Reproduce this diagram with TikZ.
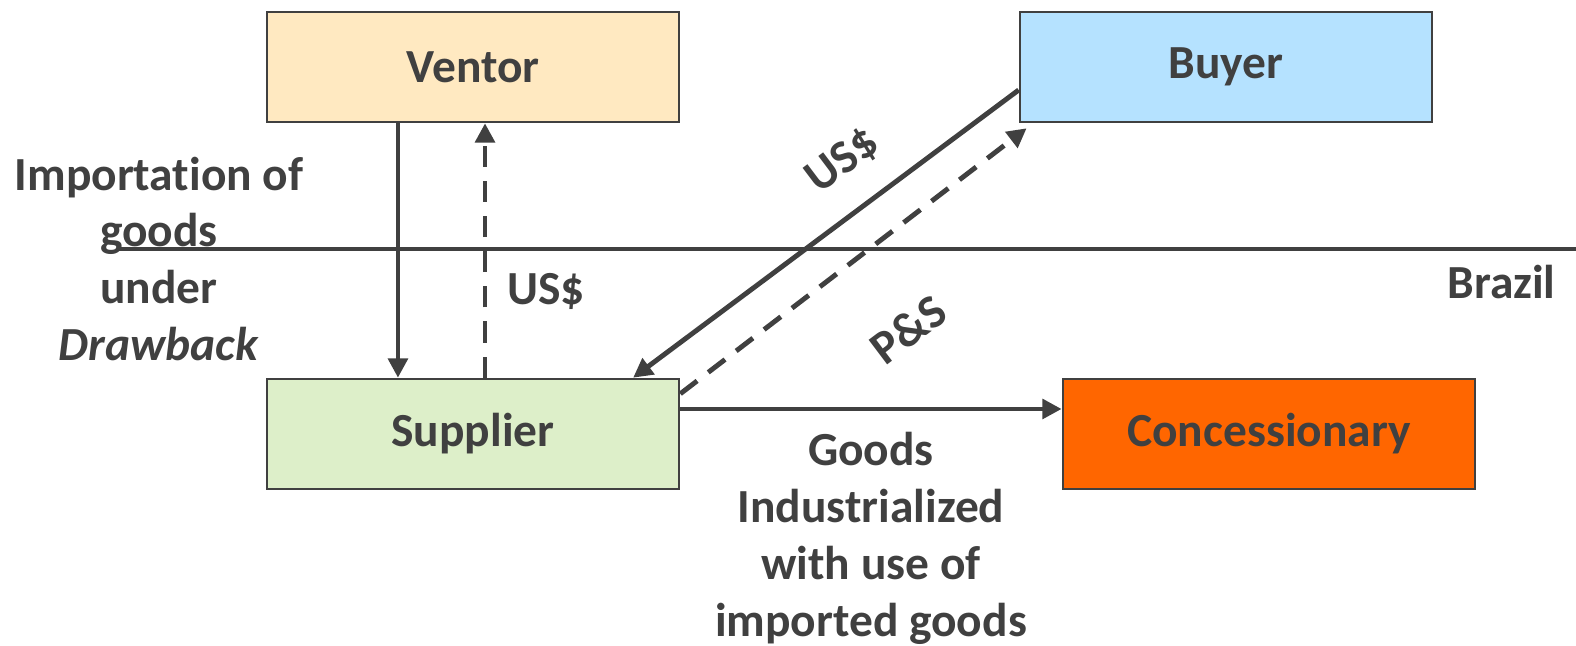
\documentclass[tikz,border=0pt]{standalone}
\usepackage{fontspec}
\setmainfont[Ligatures = NoCommon]{Carlito}
\usetikzlibrary{arrows.meta}

\definecolor{ink}{HTML}{404040}
\definecolor{ventorfill}{HTML}{FFE9C1}
\definecolor{buyerfill}{HTML}{B5E2FF}
\definecolor{supplierfill}{HTML}{DDEFC9}
\definecolor{concfill}{HTML}{FF6600}

\tikzset{
	party/.style = {draw = ink, line width = 0.7pt, text = ink, minimum width = 4.12cm, minimum height = 1.10cm, font = \bfseries\fontsize{13.5}{16.2}\selectfont},
	lbl/.style = {text = ink, align = center, font = \bfseries\fontsize{13.5}{16.2}\selectfont},
	flow/.style = {draw = ink, line width = 1.4pt, -{Triangle[length = 5.5pt, width = 5.5pt]}},
	money/.style = {flow, dashed, dash pattern = on 6pt off 4pt}
}

\begin{document}
\begin{tikzpicture}[x = 0.01cm, y = -0.01cm]
	
		\useasboundingbox (0, 0) rectangle (1576, 646);
		
		% border line
		\coordinate (borderL) at (117, 249);
		\coordinate (borderR) at (1576, 249);
		\draw[ink, line width = 0.9pt] (borderL) -- (borderR);
		
		\node[party, fill = ventorfill] (ventor) at (473, 67) {Ventor};
		\node[party, fill = buyerfill] (buyer) at (1226, 67) {Buyer};
		\node[party, fill = supplierfill] (supplier) at (473, 434) {Supplier};
		\node[party, fill = concfill] (conc) at (1269, 434) {Concessionary};
		
		\draw[flow] ([xshift = -0.75cm]ventor.south) -- ([xshift = -0.75cm]supplier.north);
		\draw[money] ([xshift = 0.12cm]supplier.north) -- ([xshift = 0.12cm]ventor.south);
		
		\draw[flow] ([yshift = -0.23cm]buyer.west) -- ([xshift = 1.60cm]supplier.north);
		\draw[money] ([yshift = -0.16cm]supplier.north east) -- ([xshift = 0.08cm, yshift = -0.05cm]buyer.south west);
		
		\draw[flow] ([yshift = 0.25cm]supplier.east) -- ([yshift = 0.25cm]conc.west);
		
		\node[lbl] (usdV) at (546, 291) {US\$};
		\node[lbl, rotate = 37] (usdD) at (843, 161) {US\$};
		\node[lbl, rotate = 37] (ps) at (908, 329) {P\&S};
		\node[lbl, anchor = east] (brazil) at (1568, 282) {Brazil};
		
		\node[lbl] (imports) at (159, 259) {Importation of\\goods\\under\\\textit{Drawback}};
		\node[lbl] (goods) at (871, 538) {Goods\\Industrialized\\with use of\\imported goods};
		
	\end{tikzpicture}
\end{document}
